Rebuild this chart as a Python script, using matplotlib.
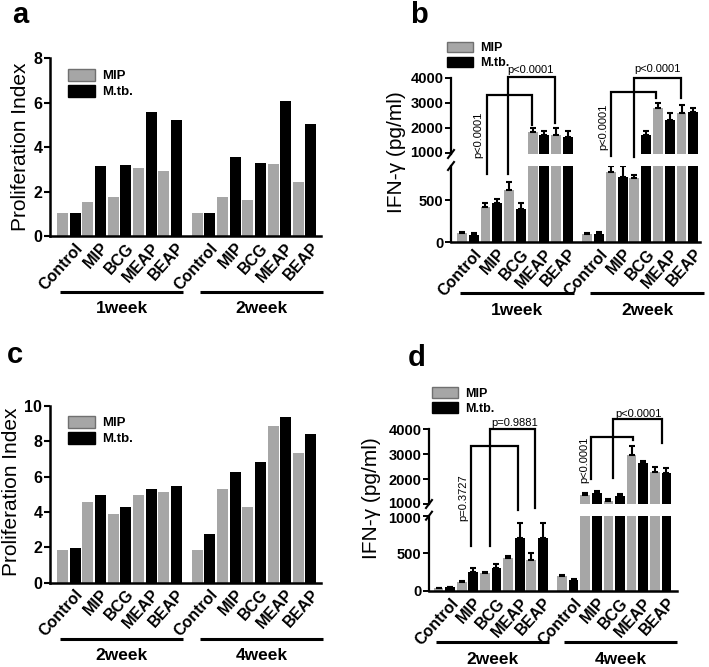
import numpy as np
import matplotlib.pyplot as plt
from matplotlib.patches import Patch
from matplotlib.transforms import ScaledTranslation

plt.rcParams['font.family'] = ['Liberation Sans', 'DejaVu Sans']
plt.rcParams['font.weight'] = 'bold'

W, H = 709, 667
GRAY = '#a6a6a6'

groups = ['Control', 'MIP', 'BCG', 'MEAP', 'BEAP']
weeks_ab = ['1week', '2week']
weeks_cd = ['2week', '4week']
series = ['MIP', 'M.tb.']

# panel a - proliferation index (1week, 2week)
a_mip = [1.05, 1.55, 1.74, 3.05, 2.94, 1.05, 1.74, 1.64, 3.24, 2.45]
a_mtb = [1.05, 3.15, 3.2, 5.56, 5.2, 1.05, 3.57, 3.27, 6.1, 5.04]

# panel c - proliferation index (2week, 4week)
c_mip = [1.85, 4.55, 3.87, 4.96, 5.15, 1.85, 5.28, 4.26, 8.87, 7.36]
c_mtb = [1.94, 4.96, 4.26, 5.28, 5.47, 2.75, 6.25, 6.85, 9.36, 8.4]

# panel b - IFN-gamma pg/ml, mean and error (1week, 2week)
b_mip = [112, 412, 624, 1826, 1729, 100, 832, 764, 2789, 2582]
b_mip_err = [12, 48, 88, 150, 260, 12, 68, 32, 206, 344]
b_mtb = [84, 460, 392, 1729, 1619, 100, 772, 1729, 2307, 2651]
b_mtb_err = [24, 48, 76, 150, 260, 24, 130, 165, 290, 150]

# panel d - IFN-gamma pg/ml (2week, 4week)
d_mip = [36, 115, 234, 442, 411, 199, 1361, 1133, 2956, 2273]
d_mip_err = [8, 15, 15, 22, 90, 13, 70, 80, 390, 200]
d_mtb = [53, 256, 309, 707, 707, 146, 1430, 1333, 2660, 2233]
d_mtb_err = [6, 44, 44, 190, 190, 13, 80, 50, 80, 200]

# p-value brackets: x_left, x_right, top, left_bottom, right_bottom, left bottom on lower axis?
b_brackets = [(2.09, 5.99, 3311, 810, 2115, True), (3.87, 7.88, 4016, 810, 2195, True),
              (12.69, 16.5, 3418, 890, 3191, False), (14.58, 18.62, 4000, 850, 3191, False)]
b_ptexts = [(5.85, 4307, 'p<0.0001', 0), (1.38, 1717, 'p<0.0001', 90),
            (16.6, 4347, 'p<0.0001', 0), (11.98, 2048, 'p<0.0001', 90)]
d_brackets = [(2.8, 6.83, 3329, 598, 759, True), (4.44, 8.32, 4000, 598, 827, True),
              (13.19, 16.74, 3703, 2004, 3570, False), (15.07, 19.24, 4402, 2056, 3438, False)]
d_ptexts = [(6.6, 4265, 'p=0.9881', 0), (2.17, 1241, 'p=0.3727', 90),
            (17.22, 4602, 'p<0.0001', 0), (12.58, 2767, 'p<0.0001', 90)]

GAP = 10.65
xg = np.array([w * GAP + 2 * i for w in range(2) for i in range(5)])
xb = xg + 1
xt = xg + 0.5

fig = plt.figure(figsize=(W / 100, H / 100), dpi=100)


def add_ax(left, top, right, bottom):
    return fig.add_axes([left / W, 1 - bottom / H, (right - left) / W, (bottom - top) / H])


def shift(lab, dy_px):
    lab.set_transform(lab.get_transform() + ScaledTranslation(0, dy_px / 100, fig.dpi_scale_trans))


def legend(ax, fx, fy, hh, fs):
    handles = [Patch(facecolor=GRAY, edgecolor='#707070', linewidth=1),
               Patch(facecolor='black', edgecolor='black', linewidth=1)]
    ax.legend(handles, series, loc='upper left', bbox_to_anchor=(fx, fy), frameon=False,
              borderpad=0, borderaxespad=0, handlelength=2.1, handleheight=hh,
              handletextpad=0.55, labelspacing=0.2, prop=dict(size=fs, weight='bold'))


def xlabels(ax, weeks, ypx_line, ypx_text, hpx):
    ax.set_xticks(xt)
    ax.set_xticklabels(groups * 2, rotation=48, ha='right', va='top',
                       rotation_mode='anchor', fontsize=11.5)
    ax.tick_params(axis='x', length=0, pad=3)
    for lab in ax.get_xticklabels():
        lab.set_transform(lab.get_transform() + ScaledTranslation(0.06, 0, fig.dpi_scale_trans))
    tr = ax.get_xaxis_transform()
    for (x0, x1), wk in zip([(-0.2, 9.55), (10.85, 20.6)], weeks):
        ax.plot([x0, x1], [-ypx_line / hpx] * 2, color='black', lw=2.2,
                transform=tr, clip_on=False, solid_capstyle='butt')
        ax.text((x0 + x1) / 2, -ypx_text / hpx, wk, transform=tr, ha='center',
                va='center', fontsize=12.5)


def simple_panel(box, xlim, ylim, yticks, mip, mtb, weeks, leg):
    ax = add_ax(*box)
    hpx = box[3] - box[1]
    ax.bar(xg, mip, width=0.87, color=GRAY, linewidth=0)
    ax.bar(xb, mtb, width=0.87, color='black', linewidth=0)
    ax.set_xlim(*xlim)
    ax.set_ylim(*ylim)
    ax.set_yticks(yticks)
    ax.tick_params(axis='y', length=4, width=1.5, labelsize=11.5, pad=1.5)
    for s in ['top', 'right']:
        ax.spines[s].set_visible(False)
    ax.spines['left'].set_linewidth(1.8)
    ax.spines['bottom'].set_linewidth(1.8)
    legend(ax, *leg, 1.0, 9.5)
    xlabels(ax, weeks, 56, 73, hpx)
    return ax


def errbars(ax, x, vals, err, keep):
    x = np.asarray(x)
    vals = np.asarray(vals, dtype=float)
    err = np.asarray(err, dtype=float)
    m = keep(vals)
    ax.errorbar(x[m], vals[m], yerr=[np.zeros(m.sum()), err[m]], fmt='none', ecolor='black',
                elinewidth=1.5, capsize=2, capthick=1.5)


def broken_panel(left, right, up, lo, xlim, ylim_up, ylim_lo, yt_up, yt_lo,
                 mip, mip_err, mtb, mtb_err, weeks, brackets, ptexts, leg):
    ax_up = add_ax(left, up[0], right, up[1])
    ax_lo = add_ax(left, lo[0], right, lo[1])
    # upper axis on top, transparent, so brackets and p-values crossing the break stay visible
    ax_up.set_zorder(3)
    ax_up.patch.set_visible(False)
    ax_lo.patch.set_visible(False)
    for ax in (ax_up, ax_lo):
        ax.bar(xg, mip, width=0.84, color=GRAY, linewidth=0)
        ax.bar(xb, mtb, width=0.84, color='black', linewidth=0)
        ax.set_xlim(*xlim)
        for s in ['top', 'right']:
            ax.spines[s].set_visible(False)
        ax.spines['left'].set_linewidth(1.6)
        ax.tick_params(axis='y', length=4, width=1.4, labelsize=10.5, pad=1.5)
    # error bars go on the axis where the bar top sits
    for x, v, e in ((xg, mip, mip_err), (xb, mtb, mtb_err)):
        errbars(ax_up, x, v, e, lambda a: a >= ylim_up[0])
        errbars(ax_lo, x, v, e, lambda a: a < ylim_lo[1])
    ax_up.set_ylim(*ylim_up)
    ax_lo.set_ylim(*ylim_lo)
    ax_up.set_yticks(yt_up)
    ax_lo.set_yticks(yt_lo)
    ax_up.spines['bottom'].set_visible(False)
    ax_up.set_xticks([])
    ax_lo.spines['bottom'].set_linewidth(1.8)
    # keep the two stacked 1000 labels apart
    shift(ax_up.get_yticklabels()[0], 1.5)
    if len(yt_lo) > 2:
        shift(ax_lo.get_yticklabels()[-1], -1.5)

    # break marks on the y axis
    hu = up[1] - up[0]
    hl = lo[1] - lo[0]
    wd = right - left
    ax_up.plot([-3 / wd, 3 / wd], [-4 / hu, 4 / hu], transform=ax_up.transAxes,
               color='black', lw=1.5, clip_on=False)
    ax_lo.plot([-3 / wd, 3 / wd], [1 - 4 / hl, 1 + 4 / hl], transform=ax_lo.transAxes,
               color='black', lw=1.5, clip_on=False)

    def lo2up(x, y):
        d = ax_lo.transData.transform((x, y))
        return ax_up.transData.inverted().transform(d)[1]

    for x0, x1, top, lb, rb, lower in brackets:
        if lower:
            lb = lo2up(x0, lb)
        ax_up.plot([x0, x0, x1, x1], [lb, top, top, rb], color='black', lw=1.6,
                   clip_on=False, solid_joinstyle='miter')
    for x, y, t, rot in ptexts:
        ax_up.text(x, y, t, rotation=rot, ha='center', va='center', fontsize=8,
                   fontweight='normal')

    legend(ax_up, *leg, 0.9, 9)
    xlabels(ax_lo, weeks, 51, 68, hl)
    return ax_up, ax_lo


simple_panel((50, 58.3, 320.7, 236), (-1.0, 20.42), (0, 8), [0, 2, 4, 6, 8],
             a_mip, a_mtb, weeks_ab, (0.065, 0.94))
simple_panel((50, 406, 320.7, 582.7), (-1.0, 20.42), (0, 10), [0, 2, 4, 6, 8, 10],
             c_mip, c_mtb, weeks_cd, (0.065, 0.945))
broken_panel(451, 700, (77.7, 154), (166, 242), (-0.93, 20.22), (960, 4000), (0, 905),
             [1000, 2000, 3000, 4000], [0, 500], b_mip, b_mip_err, b_mtb, b_mtb_err,
             weeks_ab, b_brackets, b_ptexts, (-0.016, 1.47))
broken_panel(429, 676.7, (429.3, 504), (515.7, 591), (-0.82, 20.54), (1000, 4000), (0, 1000),
             [1000, 2000, 3000, 4000], [0, 500, 1000], d_mip, d_mip_err, d_mtb, d_mtb_err,
             weeks_cd, d_brackets, d_ptexts, (0.011, 1.56))

# y labels
for (x, y), lab in zip([(21, 147), (396.5, 152), (11.5, 492), (371.7, 498)],
                       ['Proliferation Index', 'IFN-\u03b3 (pg/ml)',
                        'Proliferation Index', 'IFN-\u03b3 (pg/ml)']):
    fig.text(x / W, 1 - y / H, lab, rotation=90, ha='center', va='center',
             fontsize=15, fontweight='normal')

# panel letters
for (x, y), lab in zip([(11.7, 22.7), (410, 22.7), (6.7, 363.3), (407.7, 366)], 'abcd'):
    fig.text(x / W, 1 - y / H, lab, ha='left', va='baseline', fontsize=21)

fig.savefig('out.png', dpi=100, facecolor='white')
